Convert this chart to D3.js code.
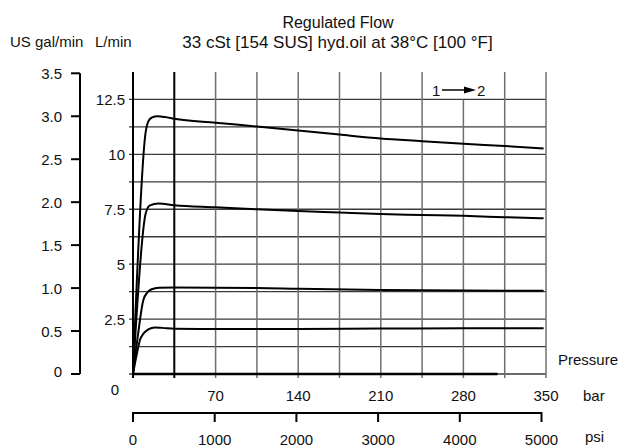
<!DOCTYPE html>
<html>
<head>
<meta charset="utf-8">
<script src="https://cdn.jsdelivr.net/npm/d3@7"></script>
<style>
    body { margin: 0; background: #fff; }
    svg { display: block; }
    text { font-family: "Liberation Sans", Arial, sans-serif; font-size: 15px; fill: #111; }
</style>
</head>
<body>
<div id="chart"></div>
<script>
// pressure in bar, flow in L/min
const barTicks = [0, 35, 70, 105, 140, 175, 210, 245, 280, 315, 350];
const barLabels = [70, 140, 210, 280, 350];
const psiTicks = [0, 1000, 2000, 3000, 4000, 5000];
const flowGrid = [0, 1.25, 2.5, 3.75, 5, 6.25, 7.5, 8.75, 10, 11.25, 12.5];
const flowLabels = [2.5, 5, 7.5, 10, 12.5];
const galTicks = [0, 0.5, 1.0, 1.5, 2.0, 2.5, 3.0, 3.5];

const flow11 = [[0, 0], [10.7, 11.0], [13, 11.5], [16, 11.68], [21, 11.73], [27, 11.7], [35, 11.62], [70, 11.44], [105, 11.27], [140, 11.09], [175, 10.9], [210, 10.72], [245, 10.6], [280, 10.48], [315, 10.38], [348, 10.27]];
const flow75 = [[0, 0], [10.7, 7.3], [14.4, 7.68], [21.5, 7.76], [35, 7.68], [70, 7.59], [105, 7.5], [140, 7.42], [175, 7.35], [210, 7.28], [245, 7.24], [280, 7.2], [315, 7.14], [348, 7.09]];
const flow39 = [[0, 0], [4, 1.7], [8.7, 3.36], [12, 3.7], [15.8, 3.86], [22, 3.93], [35, 3.94], [105, 3.92], [140, 3.88], [210, 3.82], [280, 3.8], [348, 3.79]];
const flow21 = [[0, 0], [3, 0.85], [5.9, 1.55], [9, 1.85], [13, 2.03], [18.6, 2.12], [25, 2.1], [35, 2.06], [70, 2.05], [140, 2.05], [210, 2.07], [280, 2.08], [348, 2.08]];
const flow0 = [[0, 0], [309, 0]];
const curves = [flow11, flow75, flow39, flow21];

const width = 621, height = 448;

const x = d3.scaleLinear().domain([0, 350]).range([133, 546]);
const y = d3.scaleLinear().domain([0, 13.75]).range([374, 72]);
const yGal = d3.scaleLinear().domain([0, 3.5]).range([374, 73.3]);
const xPsi = d3.scaleLinear().domain([0, 5000]).range([133, 541.5]);

const svg = d3.select("#chart").append("svg")
    .attr("width", width)
    .attr("height", height);

// titles
svg.append("text").attr("x", 338).attr("y", 27.5).attr("text-anchor", "middle")
    .style("font-size", "16px").text("Regulated Flow");
svg.append("text").attr("x", 337.5).attr("y", 48).attr("text-anchor", "middle")
    .style("font-size", "17px").text("33 cSt [154 SUS] hyd.oil at 38°C [100 °F]");
svg.append("text").attr("x", 10).attr("y", 47).text("US gal/min");
svg.append("text").attr("x", 95).attr("y", 47).text("L/min");

// horizontal grid
svg.append("g").selectAll("line")
    .data(flowGrid)
    .join("line")
    .attr("x1", 129).attr("x2", x(350))
    .attr("y1", d => y(d)).attr("y2", d => y(d))
    .attr("stroke", "#3a3a3a").attr("stroke-width", 1.3);

// vertical grid (280 bar line stops under the 1->2 box)
svg.append("g").selectAll("line")
    .data(barTicks)
    .join("line")
    .attr("x1", d => x(d)).attr("x2", d => x(d))
    .attr("y1", 378)
    .attr("y2", d => d === 280 ? y(12.5) : y(13.75))
    .attr("stroke", d => d <= 35 ? "#000" : "#707070")
    .attr("stroke-width", d => d <= 35 ? 2 : 1.5);

svg.append("g").selectAll("text")
    .data(flowLabels)
    .join("text")
    .attr("x", 125).attr("y", d => y(d) + 5.5)
    .attr("text-anchor", "end")
    .text(d => d);

// gal/min axis
const gal = svg.append("g");
gal.append("line")
    .attr("x1", 80).attr("x2", 80)
    .attr("y1", yGal(3.5)).attr("y2", yGal(0))
    .attr("stroke", "#000").attr("stroke-width", 2);
gal.selectAll(".tick")
    .data(galTicks)
    .join("line")
    .attr("class", "tick")
    .attr("x1", 71).attr("x2", 80)
    .attr("y1", d => yGal(d)).attr("y2", d => yGal(d))
    .attr("stroke", "#000").attr("stroke-width", 2);
gal.selectAll("text")
    .data(galTicks)
    .join("text")
    .attr("x", 62).attr("y", d => yGal(d) + (d === 0 ? 3 : 5.5))
    .attr("text-anchor", "end")
    .text(d => d === 0 ? "0" : d.toFixed(1));

// bar labels
svg.append("g").selectAll("text")
    .data(barLabels)
    .join("text")
    .attr("x", d => x(d)).attr("y", 401)
    .attr("text-anchor", "middle")
    .text(d => d);
svg.append("text").attr("x", 115).attr("y", 395).attr("text-anchor", "middle").text("0");
svg.append("text").attr("x", 583).attr("y", 401).text("bar");
svg.append("text").attr("x", 558).attr("y", 365).text("Pressure");

// psi axis
const psi = svg.append("g");
psi.append("line")
    .attr("x1", xPsi(0)).attr("x2", xPsi(5000))
    .attr("y1", 413).attr("y2", 413)
    .attr("stroke", "#000").attr("stroke-width", 2);
psi.selectAll(".tick")
    .data(psiTicks)
    .join("line")
    .attr("class", "tick")
    .attr("x1", d => xPsi(d)).attr("x2", d => xPsi(d))
    .attr("y1", 412).attr("y2", 422)
    .attr("stroke", "#000").attr("stroke-width", 2);
psi.selectAll("text")
    .data(psiTicks)
    .join("text")
    .attr("x", d => xPsi(d)).attr("y", 445)
    .attr("text-anchor", "middle")
    .text(d => d);
svg.append("text").attr("x", 585).attr("y", 442).text("psi");

// flow curves
const line = d3.line()
    .x(d => x(d[0]))
    .y(d => y(d[1]))
    .curve(d3.curveMonotoneX);

svg.append("g").selectAll("path")
    .data(curves)
    .join("path")
    .attr("d", line)
    .attr("fill", "none")
    .attr("stroke", "#000")
    .attr("stroke-width", 2);

svg.append("path")
    .attr("d", line(flow0))
    .attr("fill", "none")
    .attr("stroke", "#000")
    .attr("stroke-width", 2.5);

// 1 -> 2 direction label
const dir = svg.append("g");
dir.append("text").attr("x", 432).attr("y", 96).text("1");
dir.append("line")
    .attr("x1", 442).attr("x2", 466)
    .attr("y1", 90).attr("y2", 90)
    .attr("stroke", "#000").attr("stroke-width", 1.5);
dir.append("path")
    .attr("d", "M464,86.5 L476,90 L464,93.5 Z")
    .attr("fill", "#000");
dir.append("text").attr("x", 477).attr("y", 96).text("2");
</script>
</body>
</html>
